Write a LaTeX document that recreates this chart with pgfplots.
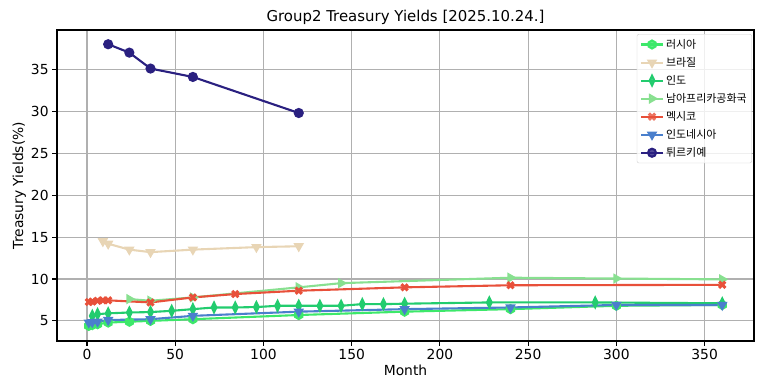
\documentclass[border=0pt]{standalone}
\usepackage{pgfplots}
\pgfplotsset{compat=1.18}
\usepackage{fontspec}
\setmainfont{DejaVu Sans}
\newfontfamily\kr{Noto Sans CJK KR}
\definecolor{cru}{HTML}{3DE86A}
\definecolor{cbr}{HTML}{E8D5B5}
\definecolor{cin}{HTML}{22CC6E}
\definecolor{csa}{HTML}{88E090}
\definecolor{cmx}{HTML}{E8503A}
\definecolor{cid}{HTML}{4A7FCC}
\definecolor{ctr}{HTML}{2A2080}
\pgfdeclareplotmark{Xf}{%
  \pgftransformrotate{45}%
  \pgfpathrectangle{\pgfpoint{-1.1\pgfplotmarksize}{-0.38\pgfplotmarksize}}{\pgfpoint{2.2\pgfplotmarksize}{0.76\pgfplotmarksize}}%
  \pgfpathrectangle{\pgfpoint{-0.38\pgfplotmarksize}{-1.1\pgfplotmarksize}}{\pgfpoint{0.76\pgfplotmarksize}{2.2\pgfplotmarksize}}%
  \pgfusepathqfill}
\pgfdeclareplotmark{hexa}{%
  \pgfpathmoveto{\pgfpointpolar{90}{\pgfplotmarksize}}%
  \pgfpathlineto{\pgfpointpolar{150}{\pgfplotmarksize}}%
  \pgfpathlineto{\pgfpointpolar{210}{\pgfplotmarksize}}%
  \pgfpathlineto{\pgfpointpolar{270}{\pgfplotmarksize}}%
  \pgfpathlineto{\pgfpointpolar{330}{\pgfplotmarksize}}%
  \pgfpathlineto{\pgfpointpolar{30}{\pgfplotmarksize}}%
  \pgfpathclose\pgfusepathqfillstroke}
\begin{document}
\begin{tikzpicture}
\useasboundingbox (-57bp,-50bp) rectangle (707bp,341bp);
\begin{axis}[
  at={(0,0)}, anchor=south west,
  scale only axis, width=697bp, height=311bp,
  xmin=-17, xmax=378, ymin=2.6, ymax=39.7,
  xtick={0,50,...,350}, ytick={5,10,...,35},
  grid=major, grid style={color=black!31, line width=1.1bp},
  axis line style={line width=1.1bp},
  tick align=outside, major tick length=4.9bp,
  tick style={black, line width=1.1bp},
  xtick pos=bottom, ytick pos=left,
  /pgf/number format/assume math mode=true,
  ticklabel style={font=\fontsize{13.9}{16}\selectfont},
  label style={font=\fontsize{13.9}{16}\selectfont},
  title style={font=\fontsize{15}{18}\selectfont, yshift=-4bp},
  title={Group2 Treasury Yields [2025.10.24.]},
  xlabel={Month}, ylabel={Treasury Yields(\%)},
  xlabel style={yshift=2bp}, ylabel style={yshift=-2bp},
  every axis plot/.append style={line width=2.1bp, mark size=4bp},
  legend style={at={(rel axis cs:0.997,0.987)}, anchor=north east,
    font=\kr\fontsize{11}{13}\selectfont, draw=black!20, rounded corners=2bp,
    fill=white, fill opacity=0.8, text opacity=1, row sep=3.5bp,
    inner xsep=3bp, inner ysep=3bp},
  legend cell align=left,
  legend image code/.code={\draw[#1] (0bp,0bp) -- (22bp,0bp); \draw[#1, only marks] plot coordinates {(11bp,0bp)};},
]
\addplot[color=cru, mark=hexa, mark options={solid}] coordinates {
(1,4.4)(3,4.5)(6,4.6)(12,4.8)(24,4.9)(36,5.0)(60,5.2)(120,5.7)(180,6.1)(240,6.4)(300,6.8)(360,6.9)};
\addlegendentry{러시아}
\addplot[color=cbr, mark=triangle*, mark options={solid, rotate=180}] coordinates {
(9,14.5)(12,14.2)(24,13.5)(36,13.2)(60,13.5)(96,13.8)(120,13.9)};
\addlegendentry{브라질}
\addplot[color=cin, mark=diamond*, mark options={solid, xscale=0.65, scale=1.2}] coordinates {
(3,5.6)(6,5.8)(12,5.9)(24,6.0)(36,6.05)(48,6.2)(60,6.4)(72,6.6)(84,6.6)(96,6.65)(108,6.8)(120,6.8)(132,6.8)(144,6.8)(156,7.0)(168,7.0)(180,7.05)(228,7.2)(288,7.2)(360,7.1)};
\addlegendentry{인도}
\addplot[color=csa, mark=triangle*, mark options={solid, rotate=-90}] coordinates {
(24,7.6)(36,7.4)(60,7.8)(120,9.0)(144,9.5)(240,10.15)(300,10.05)(360,9.95)};
\addlegendentry{남아프리카공화국}
\addplot[color=cmx, mark=Xf, mark options={solid}] coordinates {
(1,7.25)(3,7.3)(6,7.4)(9,7.45)(12,7.45)(36,7.2)(60,7.8)(84,8.2)(120,8.6)(180,9.0)(240,9.25)(360,9.3)};
\addlegendentry{멕시코}
\addplot[color=cid, mark=triangle*, mark options={solid, rotate=180}] coordinates {
(1,4.8)(3,4.85)(6,4.9)(12,5.1)(36,5.2)(60,5.6)(120,6.1)(180,6.4)(240,6.6)(300,6.9)(360,6.9)};
\addlegendentry{인도네시아}
\addplot[color=ctr, mark=*, mark options={solid}] coordinates {
(12,38.0)(24,37.0)(36,35.1)(60,34.1)(120,29.8)};
\addlegendentry{튀르키예}
\end{axis}
\end{tikzpicture}
\end{document}
